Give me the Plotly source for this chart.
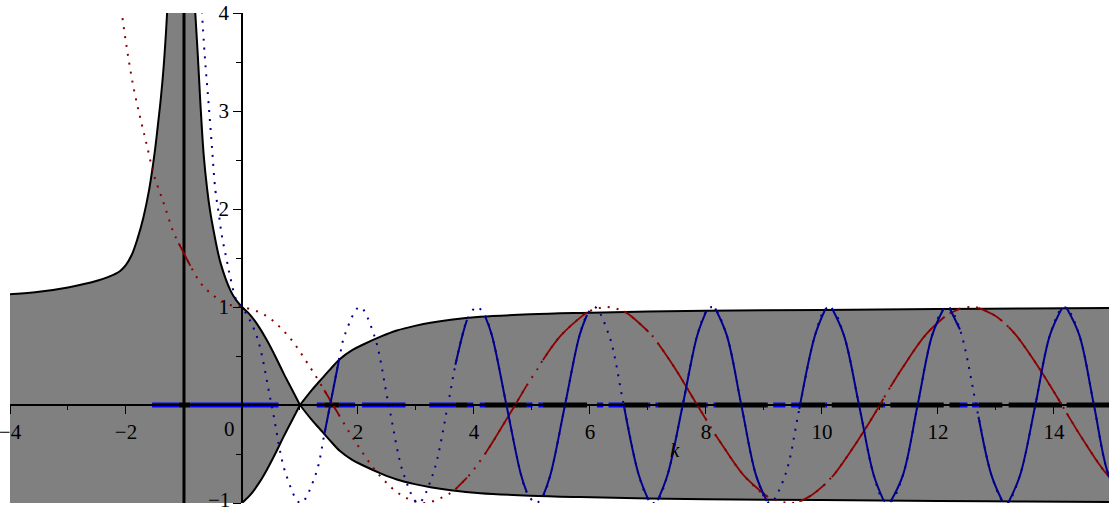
import plotly.graph_objects as go

# ---------------------------------------------------------------- envelope ±E(k)
ENV_LEFT_X = [-4.2, -4.0, -3.5, -3.0, -2.5, -2.3, -2.2, -2.1, -2.0, -1.9, -1.8, -1.7, -1.6, -1.5, -1.45, -1.40, -1.35, -1.31, -1.27]
ENV_LEFT_Y = [1.12, 1.13, 1.156, 1.20, 1.267, 1.308, 1.333, 1.368, 1.43, 1.533, 1.70, 1.914, 2.20, 2.60, 2.856, 3.125, 3.457, 3.806, 4.22]
ENV_POLE_X = [-1.0]
ENV_POLE_Y = [50.0]
ENV_MID_X = [-0.834, -0.805, -0.76, -0.72, -0.66, -0.60, -0.55, -0.49, -0.37, -0.20, -0.10, 0.0, 0.14, 0.30, 0.43, 0.58, 0.72, 0.86, 1.0]
ENV_MID_Y = [4.30, 4.00, 3.55, 3.11, 2.55, 2.20, 1.98, 1.78, 1.45, 1.17, 1.07, 1.00, 0.92, 0.79, 0.66, 0.49, 0.32, 0.16, 0.0]
ENV_RIGHT_X = [1.0, 1.2, 1.35, 1.5, 1.69, 1.9, 2.1, 2.4, 2.67, 3.0, 3.25, 3.6, 4.11, 4.97, 5.83, 7.0, 8.5, 10.0, 12.0, 13.5, 15.2]
ENV_RIGHT_Y = [0.0, 0.15, 0.25, 0.35, 0.47, 0.56, 0.62, 0.70, 0.76, 0.81, 0.84, 0.87, 0.90, 0.925, 0.94, 0.955, 0.965, 0.97, 0.98, 0.985, 0.99]

# ---------------------------------------------------------------- blue curve
BLUE_NEG_X = [-0.71, -0.69, -0.64, -0.58, -0.52, -0.46, -0.40, -0.345, -0.27, -0.20, -0.09]
BLUE_NEG_Y = [4.20, 4.00, 3.55, 3.11, 2.65, 2.20, 1.95, 1.72, 1.50, 1.30, 1.06]
BLUE_X = [0.00, 0.25, 0.51, 0.76, 1.01, 1.27, 1.52, 1.77, 2.03, 2.28, 2.53, 2.79, 3.04, 3.29, 3.55, 3.80,
          4.05, 4.31, 4.56, 4.81, 5.07, 5.32, 5.57, 5.82, 6.08, 6.33, 6.58, 6.84, 7.09, 7.34, 7.60, 7.85,
          8.10, 8.36, 8.61, 8.86, 9.12, 9.37, 9.62, 9.88, 10.13, 10.38, 10.64, 10.89, 11.14, 11.40, 11.65, 11.90,
          12.16, 12.41, 12.66, 12.92, 13.17, 13.42, 13.68, 13.93, 14.18, 14.44, 14.69, 14.94, 15.20]
BLUE_Y = [1, 0.71, 0, -0.71, -1, -0.71, 0, 0.71, 1, 0.71, 0, -0.71, -1, -0.71, 0, 0.71,
          1, 0.71, 0, -0.71, -1, -0.71, 0, 0.71, 1, 0.71, 0, -0.71, -1, -0.71, 0, 0.71,
          1, 0.71, 0, -0.71, -1, -0.71, 0, 0.71, 1, 0.71, 0, -0.71, -1, -0.71, 0, 0.71,
          1, 0.71, 0, -0.71, -1, -0.71, 0, 0.71, 1, 0.71, 0, -0.71, -1]

# ---------------------------------------------------------------- red curve
RED_NEG_X = [-2.12, -2.07, -1.98, -1.87, -1.75, -1.64, -1.52, -1.41, -1.35, -1.18, -0.72, -0.58, -0.43, -0.20]
RED_NEG_Y = [4.22, 3.99, 3.62, 3.24, 2.92, 2.65, 2.35, 2.16, 2.06, 1.76, 1.25, 1.16, 1.09, 1.02]
RED_X = [0.00, 0.39, 0.79, 1.18, 1.57, 1.96, 2.36, 2.75, 3.14, 3.53, 3.93, 4.32, 4.71, 5.11, 5.50, 5.89,
         6.28, 6.68, 7.07, 7.46, 7.85, 8.25, 8.64, 9.03, 9.42, 9.82, 10.21, 10.60, 11.00, 11.39, 11.78, 12.17,
         12.57, 12.96, 13.35, 13.74, 14.14, 14.53, 14.92, 15.32]
RED_Y = [1, 0.92, 0.71, 0.38, 0, -0.38, -0.71, -0.92, -1, -0.92, -0.71, -0.38, 0, 0.38, 0.71, 0.92,
         1, 0.92, 0.71, 0.38, 0, -0.38, -0.71, -0.92, -1, -0.92, -0.71, -0.38, 0, 0.38, 0.71, 0.92,
         1, 0.92, 0.71, 0.38, 0, -0.38, -0.71, -0.92]

# ---------------------------------------------------------------- solid (black-marked) k intervals
SOLID_FROM = [-1.09, 1.42, 3.68, 4.19, 5.19, 6.58, 7.17, 8.16, 9.61, 10.17, 11.18, 12.20, 12.70, 13.22, 14.22]
SOLID_TO = [-0.89, 1.68, 3.88, 4.91, 5.95, 7.01, 8.01, 9.05, 10.06, 11.06, 12.10, 12.38, 13.11, 14.14, 15.40]
# curve values at the interval ends (from, to) for each interval
BLUE_AT_FROM = [None, -0.30, 0.41, 0.91, -0.93, 0.01, -0.97, 0.985, -0.04, 0.99, -0.99, 0.99, -0.12, -0.99, 0.99]
BLUE_AT_TO = [None, 0.48, 0.87, -0.89, 0.92, -0.97, 0.96, -0.98, 0.98, -0.97, 0.985, 0.77, -0.98, 0.99, None]
RED_AT_FROM = [1.65, 0.15, -0.86, -0.50, 0.46, 0.956, 0.632, -0.301, -0.983, -0.735, 0.183, 0.934, 0.991, 0.794, -0.083]
RED_AT_TO = [1.42, -0.11, -0.74, 0.20, 0.945, 0.747, -0.155, -0.930, -0.805, 0.064, 0.893, 0.983, 0.856, -0.003, None]

# blue-marked k intervals on the axis
BLUEMARK_FROM = [-1.55, -0.89, 1.29, 1.68, 2.07, 3.23, 3.88, 4.10, 4.91, 5.11, 6.12, 6.32, 7.01, 7.13,
                 8.01, 8.13, 9.05, 9.16, 9.47, 10.06, 11.06, 12.38, 12.59]
BLUEMARK_TO = [-1.09, 0.63, 1.42, 1.95, 2.82, 3.68, 3.99, 4.19, 5.01, 5.19, 6.23, 6.58, 7.04, 7.17,
               8.03, 8.16, 9.07, 9.37, 9.61, 10.09, 11.09, 12.51, 12.70]

X_TICKS = [-4, -2, 2, 4, 6, 8, 10, 12, 14]
X_TICK_TEXT = ["\u22124", "\u22122", "2", "4", "6", "8", "10", "12", "14"]
X_MINOR = [-3, -1, 1, 3, 5, 7, 9, 11, 13]
Y_TICKS = [-1, 1, 2, 3, 4]
Y_TICK_TEXT = ["", "1", "2", "3", "4"]
Y_MINOR = [-0.5, 0.5, 1.5, 2.5, 3.5]

X_RANGE = [-4.0, 14.95]
Y_RANGE = [-1.0, 4.0]

GRAY = "#808080"
NAVY = "#00008C"
MAROON = "#8B0000"
BRIGHT_BLUE = "#0000FF"
DOT = "2px,7px"
SERIF = "Liberation Serif"


def merged(xs_a, ys_a, edges_x, edges_y, tol=0.04):
    pts = {}
    for x, y in zip(edges_x, edges_y):
        if y is not None:
            pts[x] = y
    for x, y in zip(xs_a, ys_a):
        if all(abs(x - e) > tol for e in pts):
            pts[x] = y
    xs = sorted(pts)
    return xs, [pts[x] for x in xs]


def pieces(xs, ys, starts, ends):
    px, py = [], []
    for a, b in zip(starts, ends):
        sx = [x for x in xs if a - 1e-9 <= x <= b + 1e-9]
        if len(sx) < 2:
            continue
        px += sx + [None]
        py += [ys[xs.index(x)] for x in sx] + [None]
    return px, py


def joined(pairs):
    px, py = [], []
    for xs, ys in pairs:
        px += list(xs) + [None]
        py += list(ys) + [None]
    return px, py


fig = go.Figure()

# gray region between -E and +E
fill_sets = [
    (ENV_LEFT_X + ENV_POLE_X + ENV_MID_X, ENV_LEFT_Y + ENV_POLE_Y + ENV_MID_Y),
    (ENV_RIGHT_X, ENV_RIGHT_Y),
]
for fx, fy in fill_sets:
    fig.add_trace(go.Scatter(x=fx, y=[-v for v in fy], mode="lines",
                             line=dict(width=0, shape="spline", color=GRAY),
                             hoverinfo="skip", showlegend=False))
    fig.add_trace(go.Scatter(x=fx, y=fy, mode="lines", fill="tonexty", fillcolor=GRAY,
                             line=dict(width=0, shape="spline", color=GRAY),
                             hoverinfo="skip", showlegend=False))

# marks along the k axis
edge_x = [v for pair in zip(SOLID_FROM, SOLID_TO) for v in pair]
mx, my = joined([([a, b], [0, 0]) for a, b in zip(SOLID_FROM, SOLID_TO)])
fig.add_trace(go.Scatter(x=mx, y=my, mode="lines", line=dict(color="black", width=5),
                         hoverinfo="skip", showlegend=False))
bx, by = joined([([a, b], [0, 0]) for a, b in zip(BLUEMARK_FROM, BLUEMARK_TO)])
fig.add_trace(go.Scatter(x=bx, y=by, mode="lines", line=dict(color=BRIGHT_BLUE, width=5),
                         hoverinfo="skip", showlegend=False))

# envelope boundary curves
ex, ey = joined([
    (ENV_LEFT_X, ENV_LEFT_Y),
    (ENV_MID_X, ENV_MID_Y),
    (ENV_RIGHT_X, ENV_RIGHT_Y),
    (ENV_MID_X[9:], [-v for v in ENV_MID_Y[9:]]),
    (ENV_RIGHT_X, [-v for v in ENV_RIGHT_Y]),
])
fig.add_trace(go.Scatter(x=ex, y=ey, mode="lines", line=dict(color="black", width=2, shape="spline"),
                         hoverinfo="skip", showlegend=False))
fig.add_trace(go.Scatter(x=ENV_POLE_X * 2, y=[-1.02, 4.1], mode="lines",
                         line=dict(color="black", width=3), hoverinfo="skip", showlegend=False))

# red curve: dotted everywhere, solid on the marked intervals
rx, ry = merged(RED_NEG_X + RED_X, RED_NEG_Y + RED_Y,
                edge_x, [v for pair in zip(RED_AT_FROM, RED_AT_TO) for v in pair])
fig.add_trace(go.Scatter(x=rx, y=ry, mode="lines",
                         line=dict(color=MAROON, width=2, dash=DOT, shape="spline"),
                         hoverinfo="skip", showlegend=False))
sx, sy = pieces(rx, ry, SOLID_FROM, SOLID_TO)
fig.add_trace(go.Scatter(x=sx, y=sy, mode="lines",
                         line=dict(color=MAROON, width=1.8, shape="spline"),
                         hoverinfo="skip", showlegend=False))

# blue curve: dotted everywhere, solid on the marked intervals
bxs, bys = merged(BLUE_NEG_X + BLUE_X, BLUE_NEG_Y + BLUE_Y,
                  edge_x, [v for pair in zip(BLUE_AT_FROM, BLUE_AT_TO) for v in pair])
fig.add_trace(go.Scatter(x=bxs, y=bys, mode="lines",
                         line=dict(color=NAVY, width=2, dash=DOT, shape="spline"),
                         hoverinfo="skip", showlegend=False))
sx, sy = pieces(bxs, bys, SOLID_FROM, SOLID_TO)
fig.add_trace(go.Scatter(x=sx, y=sy, mode="lines",
                         line=dict(color=NAVY, width=2, shape="spline"),
                         hoverinfo="skip", showlegend=False))

tick_font = dict(family=SERIF, size=21, color="black")
fig.update_layout(
    width=1109, height=511,
    margin=dict(l=10, r=0, t=13, b=8, pad=0, autoexpand=False),
    paper_bgcolor="white", plot_bgcolor="white",
    showlegend=False,
    xaxis=dict(range=X_RANGE, anchor="free", position=(0 - Y_RANGE[0]) / (Y_RANGE[1] - Y_RANGE[0]),
               showline=True, linecolor="black", linewidth=1.5,
               ticks="outside", ticklen=8, tickwidth=1.3, tickcolor="black",
               tickmode="array", tickvals=X_TICKS, ticktext=X_TICK_TEXT, tickfont=tick_font,
               ticklabeloverflow="allow",
               minor=dict(tickmode="array", tickvals=X_MINOR, ticks="outside", ticklen=4,
                          tickwidth=1.3, tickcolor="black", showgrid=False),
               showgrid=False, zeroline=False, automargin=False, fixedrange=True),
    yaxis=dict(range=Y_RANGE, anchor="free", position=(0 - X_RANGE[0]) / (X_RANGE[1] - X_RANGE[0]),
               showline=True, linecolor="black", linewidth=1.5,
               ticks="outside", ticklen=8, tickwidth=1.3, tickcolor="black",
               tickmode="array", tickvals=Y_TICKS, ticktext=Y_TICK_TEXT, tickfont=tick_font,
               ticklabeloverflow="allow",
               minor=dict(tickmode="array", tickvals=Y_MINOR, ticks="outside", ticklen=5,
                          tickwidth=1.3, tickcolor="black", showgrid=False),
               showgrid=False, zeroline=False, automargin=False, fixedrange=True),
    annotations=[
        dict(x=-0.22, y=-0.24, xref="x", yref="y", text="0", showarrow=False, font=tick_font),
        dict(x=-0.40, y=-1.0, yshift=3, xref="x", yref="y", text="\u22121", showarrow=False,
             font=tick_font),
        dict(x=7.47, y=-0.46, xref="x", yref="y", text="<i>k</i>", showarrow=False, font=tick_font),
    ],
)

fig.write_html("out.html", config={"displayModeBar": False})
